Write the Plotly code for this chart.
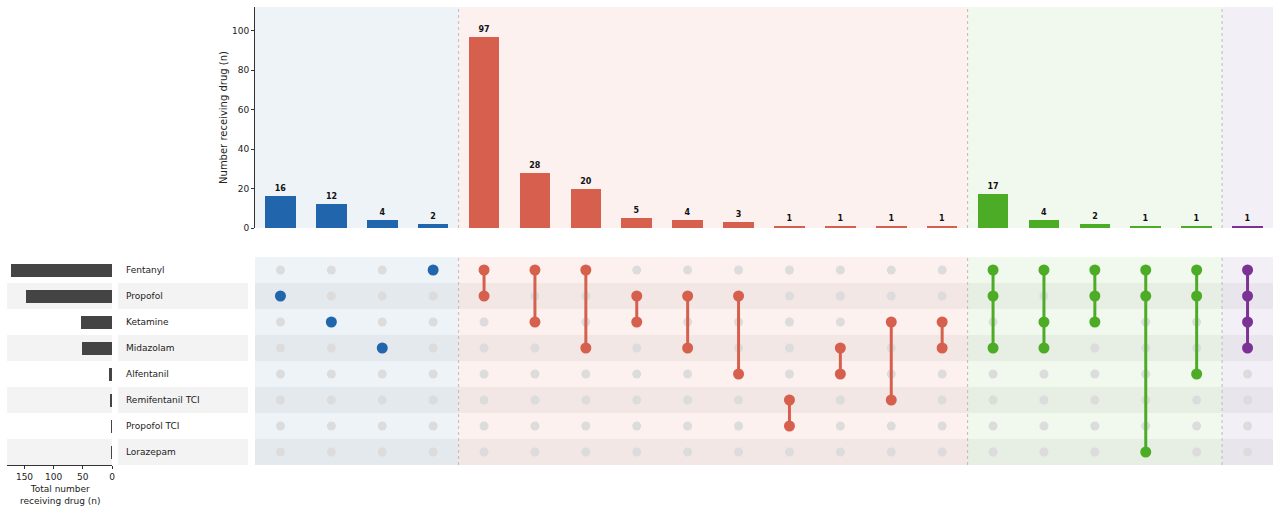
import plotly.graph_objects as go

# ---------------- data ----------------
sets = ["Fentanyl", "Propofol", "Ketamine", "Midazolam", "Alfentanil",
        "Remifentanil TCI", "Propofol TCI", "Lorazepam"]
combos = [
    ["Propofol"], ["Ketamine"], ["Midazolam"], ["Fentanyl"],
    ["Fentanyl", "Propofol"], ["Fentanyl", "Ketamine"], ["Fentanyl", "Midazolam"],
    ["Propofol", "Ketamine"], ["Propofol", "Midazolam"], ["Propofol", "Alfentanil"],
    ["Remifentanil TCI", "Propofol TCI"], ["Midazolam", "Alfentanil"],
    ["Ketamine", "Remifentanil TCI"], ["Ketamine", "Midazolam"],
    ["Fentanyl", "Propofol", "Midazolam"], ["Fentanyl", "Ketamine", "Midazolam"],
    ["Fentanyl", "Propofol", "Ketamine"], ["Fentanyl", "Propofol", "Lorazepam"],
    ["Fentanyl", "Propofol", "Alfentanil"],
    ["Fentanyl", "Propofol", "Ketamine", "Midazolam"],
]
counts = [16, 12, 4, 2, 97, 28, 20, 5, 4, 3, 1, 1, 1, 1, 17, 4, 2, 1, 1, 1]
degree_groups = [1, 1, 1, 1, 2, 2, 2, 2, 2, 2, 2, 2, 2, 2, 3, 3, 3, 3, 3, 4]
set_totals = [sum(c for cb, c in zip(combos, counts) if s in cb) for s in sets]
top_ticks = [0, 20, 40, 60, 80, 100]
left_ticks = [0, 50, 100, 150]

group_colors = {1: "#2166AC", 2: "#D6604D", 3: "#4DAC26", 4: "#7B3294"}
group_bg = {1: "#EEF3F8", 2: "#FCF1EF", 3: "#F1F8EE", 4: "#F3EFF6"}

W, H = 1280, 510
def px_x(p): return p / W
def px_y(p): return 1 - p / H

n = len(combos)
ncol = list(range(n))
nrow = len(sets)

fig = go.Figure()

# ---- top bars ----
fig.add_trace(go.Bar(
    x=ncol, y=counts, width=0.6,
    marker=dict(color=[group_colors[g] for g in degree_groups], line=dict(width=0)),
    text=[f"<b>{c}</b>" for c in counts], textposition="outside",
    textfont=dict(size=8, color="#111", family="DejaVu Sans"),
    cliponaxis=False, xaxis="x", yaxis="y", showlegend=False, hoverinfo="skip"))

# ---- matrix inactive dots ----
ix, iy = [], []
for c, cb in enumerate(combos):
    for r, s in enumerate(sets):
        if s not in cb:
            ix.append(c); iy.append(r)
fig.add_trace(go.Scatter(x=ix, y=iy, mode="markers",
                         marker=dict(size=9, color="#DCDCDC"),
                         xaxis="x2", yaxis="y2", showlegend=False, hoverinfo="skip"))
# ---- matrix active dots ----
for c, cb in enumerate(combos):
    rows = sorted(sets.index(s) for s in cb)
    col = group_colors[degree_groups[c]]
    fig.add_trace(go.Scatter(x=[c] * len(rows), y=rows, mode="lines+markers",
                             line=dict(color=col, width=3),
                             marker=dict(size=11, color=col),
                             xaxis="x2", yaxis="y2", showlegend=False, hoverinfo="skip"))

# ---- left set-size bars ----
fig.add_trace(go.Bar(x=set_totals, y=list(range(nrow)), orientation="h", width=0.5,
                     marker=dict(color="#444444", line=dict(width=0)),
                     xaxis="x3", yaxis="y3", showlegend=False, hoverinfo="skip"))

shapes = []
gstart = {}
gend = {}
for i, g in enumerate(degree_groups):
    gstart.setdefault(g, i)
    gend[g] = i
for g in gstart:
    for xr, yr in (("x", "y domain"), ("x2", "y2 domain")):
        shapes.append(dict(type="rect", xref=xr, yref=yr, x0=gstart[g] - 0.5, x1=gend[g] + 0.5,
                           y0=0, y1=1, fillcolor=group_bg[g], line=dict(width=0), layer="below"))
for r in range(nrow):
    if r % 2 == 1:
        shapes.append(dict(type="rect", xref="x2 domain", yref="y2", x0=0, x1=1,
                           y0=r - 0.5, y1=r + 0.5, fillcolor="rgba(0,0,0,0.04)",
                           line=dict(width=0), layer="below"))
        shapes.append(dict(type="rect", xref="paper", yref="y2", x0=px_x(118), x1=px_x(248),
                           y0=r - 0.5, y1=r + 0.5, fillcolor="#F3F3F3",
                           line=dict(width=0), layer="below"))
        shapes.append(dict(type="rect", xref="x3 domain", yref="y3", x0=0, x1=1,
                           y0=r - 0.5, y1=r + 0.5, fillcolor="#F3F3F3",
                           line=dict(width=0), layer="below"))
for g in list(gstart)[1:]:
    xs = gstart[g] - 0.5
    for xr, yr in (("x", "y domain"), ("x2", "y2 domain")):
        shapes.append(dict(type="line", xref=xr, yref=yr, x0=xs, x1=xs, y0=0, y1=1,
                           line=dict(color="#BBBBBB", width=1, dash="dot"), layer="below"))

annotations = []
for r, s in enumerate(sets):
    annotations.append(dict(xref="paper", yref="y2", x=px_x(124), y=r, text=s,
                            xanchor="left", yanchor="middle", showarrow=False,
                            font=dict(size=9, color="#222", family="DejaVu Sans")))
annotations.append(dict(xref="paper", yref="paper", x=px_x(60), y=px_y(482),
                        text="Total number<br>receiving drug (n)", xanchor="center",
                        yanchor="top", showarrow=False,
                        font=dict(size=9, color="#222", family="DejaVu Sans")))

fig.update_layout(
    width=W, height=H, margin=dict(l=0, r=0, t=0, b=0, autoexpand=False),
    paper_bgcolor="white", plot_bgcolor="rgba(0,0,0,0)",
    font=dict(family="DejaVu Sans", color="#333"),
    bargap=0, shapes=shapes, annotations=annotations,
    xaxis=dict(domain=[px_x(255), px_x(1273)], range=[-0.5, n - 0.5], visible=False,
               anchor="y", automargin=False),
    yaxis=dict(domain=[px_y(228), px_y(7)], range=[0, 112], anchor="x", automargin=False,
               tickvals=top_ticks, ticks="outside", ticklen=3,
               tickcolor="#333", showline=True, linecolor="#333", linewidth=1,
               showgrid=False, zeroline=False, tickfont=dict(size=9, color="#222"),
               title=dict(text="Number receiving drug (n)", font=dict(size=10, color="#222"),
                          standoff=2)),
    xaxis2=dict(domain=[px_x(255), px_x(1273)], range=[-0.5, n - 0.5], visible=False,
                anchor="y2", automargin=False),
    yaxis2=dict(domain=[px_y(465), px_y(257)], range=[nrow - 0.5, -0.5], visible=False,
                anchor="x2", automargin=False),
    xaxis3=dict(domain=[px_x(7), px_x(112)], range=[180, 0], anchor="y3", automargin=False,
                tickvals=left_ticks, ticks="outside", ticklen=3, tickcolor="#333",
                showline=True, linecolor="#333", linewidth=1, showgrid=False,
                zeroline=False, tickfont=dict(size=9, color="#222")),
    yaxis3=dict(domain=[px_y(465), px_y(257)], range=[nrow - 0.5, -0.5], visible=False,
                anchor="x3", automargin=False),
)

fig.write_html("out.html")
